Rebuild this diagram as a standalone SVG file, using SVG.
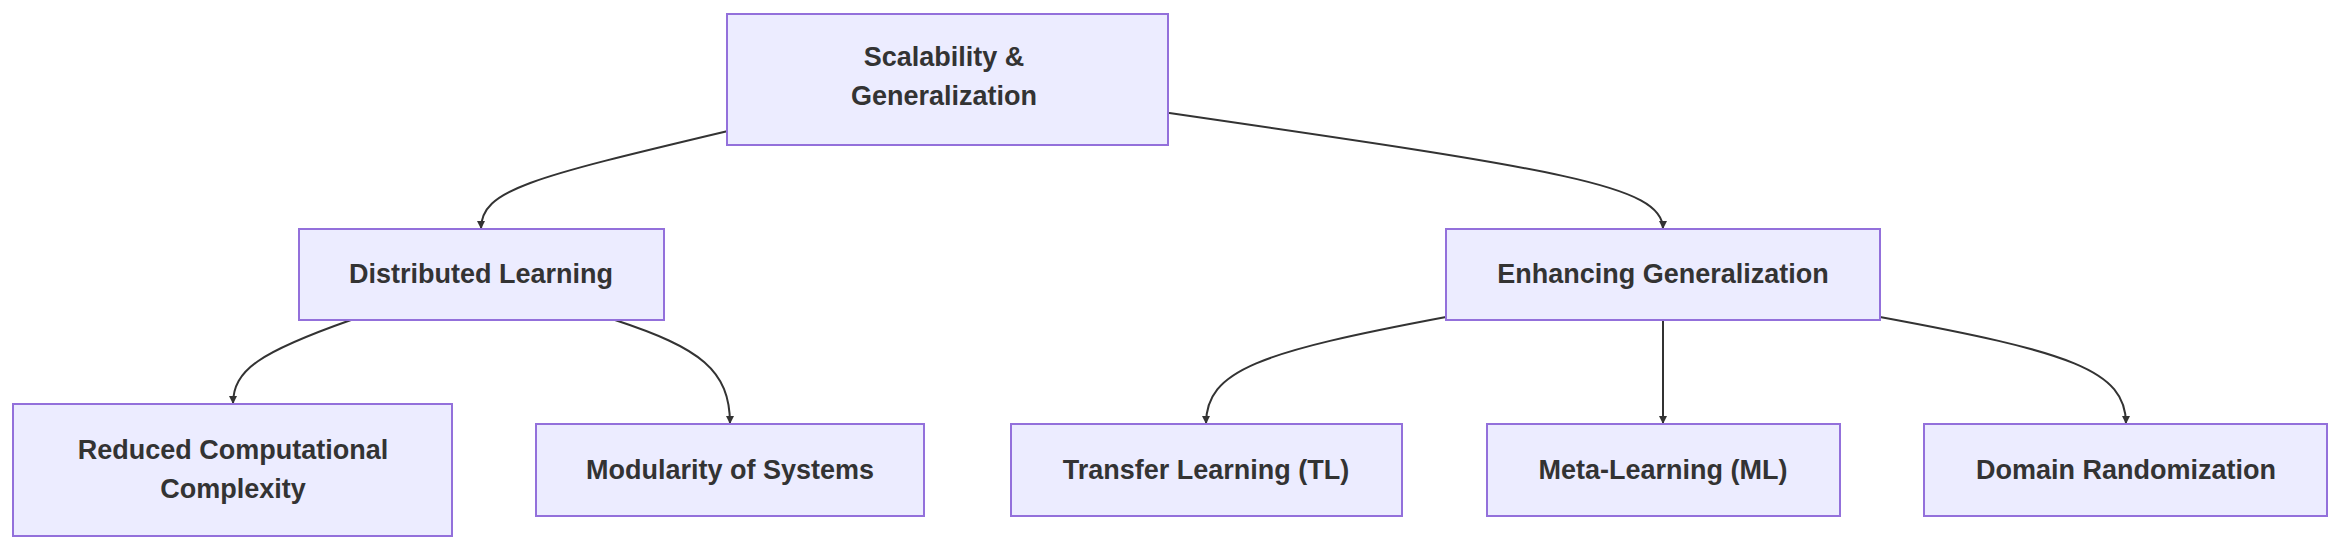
<svg xmlns="http://www.w3.org/2000/svg" width="2352" height="555" viewBox="0 0 2352 555">
<defs>
<style>
.n rect{fill:#ECECFF;stroke:#9370DB;stroke-width:2}
.n text{font-family:"Liberation Sans",Arial,sans-serif;font-weight:bold;font-size:27px;fill:#333;text-anchor:middle;dominant-baseline:central}
.e path{fill:none;stroke:#333;stroke-width:2;marker-end:url(#a)}
</style>
<marker id="a" viewBox="0 0 10 10" refX="10" refY="5" markerWidth="8" markerHeight="8" markerUnits="userSpaceOnUse" orient="auto"><path d="M0,0L10,5L0,10z" fill="#333"/></marker>
</defs>
<rect width="2352" height="555" fill="#fff"/>
<g class="e">
<path d="M728,131 C530,178 481,190 481,229" transform="translate(0,0)"/>
<path d="M1169,113 C1560,170 1663,185 1663,229"/>
<path d="M351,320 C260,352 233,370 233,404"/>
<path d="M615,320 C700,348 730,370 730,424"/>
<path d="M1446,317 C1260,352 1206,370 1206,424"/>
<path d="M1663,320 L1663,424"/>
<path d="M1880,317 C2070,352 2126,370 2126,424"/>
</g>
<g id="top" class="n"><rect x="727" y="14" width="441" height="131"/><text x="944" y="57">Scalability &amp;</text><text x="944" y="96">Generalization</text></g>
<g id="dist" class="n"><rect x="299" y="229" width="365" height="91"/><text x="481" y="274">Distributed Learning</text></g>
<g id="enh" class="n"><rect x="1446" y="229" width="434" height="91"/><text x="1663" y="274">Enhancing Generalization</text></g>
<g id="red" class="n"><rect x="13" y="404" width="439" height="132"/><text x="233" y="450">Reduced Computational</text><text x="233" y="489">Complexity</text></g>
<g id="mod" class="n"><rect x="536" y="424" width="388" height="92"/><text x="730" y="470">Modularity of Systems</text></g>
<g id="tl" class="n"><rect x="1011" y="424" width="391" height="92"/><text x="1206" y="470">Transfer Learning (TL)</text></g>
<g id="ml" class="n"><rect x="1487" y="424" width="353" height="92"/><text x="1663" y="470">Meta-Learning (ML)</text></g>
<g id="dr" class="n"><rect x="1924" y="424" width="403" height="92"/><text x="2126" y="470">Domain Randomization</text></g>
</svg>
